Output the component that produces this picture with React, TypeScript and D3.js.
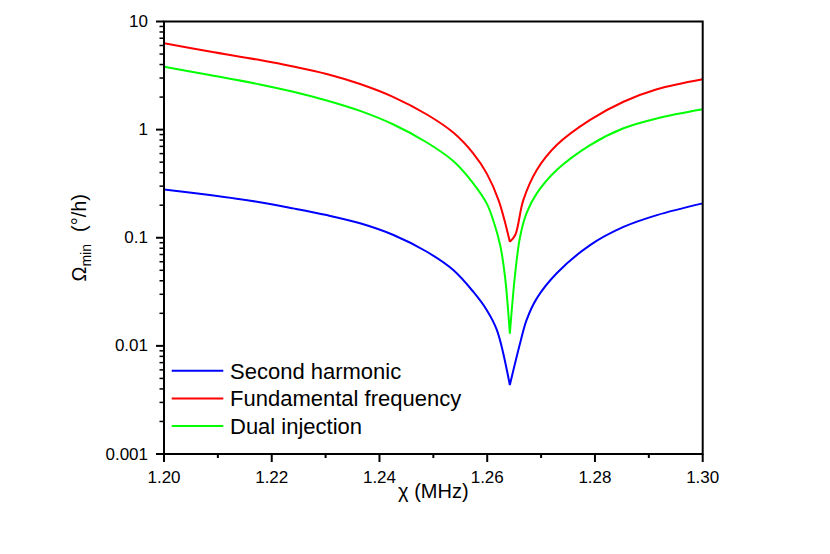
import React from "react";
import * as d3 from "d3";

const redX = [1.2, 1.2085, 1.2178, 1.224, 1.2302, 1.2364, 1.2426, 1.2488, 1.2537, 1.2574, 1.2599, 1.2621, 1.2642, 1.2652, 1.2667, 1.2692, 1.2729, 1.2791, 1.2853, 1.2915, 1.3];
const redY = [6.29, 5.27, 4.4, 3.835, 3.27, 2.64, 2.0, 1.38, 0.94, 0.604, 0.394, 0.223, 0.0918, 0.106, 0.223, 0.423, 0.72, 1.23, 1.81, 2.36, 2.92];

const greenX = [1.2, 1.2085, 1.2178, 1.224, 1.2302, 1.2364, 1.2426, 1.2488, 1.2537, 1.2574, 1.2599, 1.2611, 1.2624, 1.2633, 1.2642, 1.2652, 1.2661, 1.2673, 1.2692, 1.2729, 1.2791, 1.2853, 1.2915, 1.3];
const greenY = [3.82, 3.2, 2.62, 2.24, 1.86, 1.49, 1.115, 0.76, 0.512, 0.319, 0.208, 0.146, 0.0856, 0.0436, 0.013, 0.0472, 0.102, 0.169, 0.257, 0.423, 0.72, 1.03, 1.27, 1.54];

const blueX = [1.2, 1.2085, 1.2178, 1.224, 1.2302, 1.2364, 1.2426, 1.2488, 1.2537, 1.2574, 1.2599, 1.2618, 1.2642, 1.2661, 1.2673, 1.2692, 1.2729, 1.2791, 1.2853, 1.2915, 1.3];
const blueY = [0.28, 0.248, 0.213, 0.187, 0.162, 0.136, 0.106, 0.0742, 0.0503, 0.0317, 0.0215, 0.014, 0.00434, 0.01055, 0.0173, 0.0275, 0.0469, 0.0856, 0.126, 0.162, 0.208];

const seriesNames = ["Second harmonic", "Fundamental frequency", "Dual injection"];
const seriesColors = ["#0000FF", "#FF0000", "#00FF00"];

const xMajor = [1.2, 1.22, 1.24, 1.26, 1.28, 1.3];
const xMinor = [1.21, 1.23, 1.25, 1.27, 1.29];
const yMajor = [0.001, 0.01, 0.1, 1, 10];
const yMajorLabels = ["0.001", "0.01", "0.1", "1", "10"];

const L = 164, R = 702.7, T = 21.5, B = 454;
const FONT = "Liberation Sans, Arial, Helvetica, sans-serif";

export default function App() {
  const x = d3.scaleLinear().domain([1.2, 1.3]).range([L, R]);
  const y = d3.scaleLog().domain([0.001, 10]).range([B, T]);

  const yMinor: number[] = [];
  for (let i = 0; i < 4; i++) {
    const base = yMajor[i];
    for (let k = 2; k <= 9; k++) yMinor.push(base * k);
  }

  const line = d3
    .line<[number, number]>()
    .x((d) => x(d[0]))
    .y((d) => y(d[1]))
    .curve(d3.curveCatmullRom.alpha(0.5));

  const makePath = (xs: number[], ys: number[]) => {
    const pts: [number, number][] = xs.map((v, i) => [v, ys[i]]);
    let mi = 0;
    ys.forEach((v, i) => {
      if (v < ys[mi]) mi = i;
    });
    return (line(pts.slice(0, mi + 1)) || "") + (line(pts.slice(mi)) || "");
  };

  const series = [
    { xs: blueX, ys: blueY },
    { xs: redX, ys: redY },
    { xs: greenX, ys: greenY },
  ];

  return (
    <svg width={830} height={554} style={{ position: "absolute", left: 0, top: 0, background: "#fff" }} fontFamily={FONT}>
      <rect width={830} height={554} fill="#fff" />
      <defs>
        <clipPath id="plot">
          <rect x={L} y={T - 2} width={R - L} height={B - T + 4} />
        </clipPath>
      </defs>
      <g clipPath="url(#plot)">
        {series.map((s, i) => (
          <path key={i} d={makePath(s.xs, s.ys)} fill="none" stroke={seriesColors[i]} strokeWidth={2} strokeLinejoin="round" />
        ))}
      </g>
      {/* frame */}
      <rect x={L} y={T} width={R - L} height={B - T} fill="none" stroke="#000" strokeWidth={2} />
      {/* x ticks */}
      {xMajor.map((v) => (
        <g key={"xm" + v}>
          <line x1={x(v)} x2={x(v)} y1={B} y2={B + 8} stroke="#000" strokeWidth={2} />
          <text x={x(v)} y={483} textAnchor="middle" fontSize={17} fill="#000">
            {v.toFixed(2)}
          </text>
        </g>
      ))}
      {xMinor.map((v) => (
        <line key={"xn" + v} x1={x(v)} x2={x(v)} y1={B} y2={B + 4} stroke="#000" strokeWidth={2} />
      ))}
      {/* y ticks */}
      {yMajor.map((v, i) => (
        <g key={"ym" + v}>
          <line x1={L - 8} x2={L} y1={y(v)} y2={y(v)} stroke="#000" strokeWidth={2} />
          <text x={148} y={y(v) + 5.5} textAnchor="end" fontSize={17} fill="#000">
            {yMajorLabels[i]}
          </text>
        </g>
      ))}
      {yMinor.map((v) => (
        <line key={"yn" + v} x1={L - 4.5} x2={L} y1={y(v)} y2={y(v)} stroke="#000" strokeWidth={1.5} />
      ))}
      {/* axis titles */}
      <text x={(L + R) / 2} y={498} textAnchor="middle" fontSize={20} fill="#000">
        χ (MHz)
      </text>
      <text transform={`translate(86, ${(T + B) / 2}) rotate(-90)`} textAnchor="middle" fontSize={20} fill="#000">
        <tspan>Ω</tspan>
        <tspan fontSize={14} dy={5}>min</tspan>
        <tspan dy={-5} dx={12}>(°/h)</tspan>
      </text>
      {/* legend */}
      {seriesNames.map((n, i) => (
        <g key={n}>
          <line x1={171.7} x2={223.3} y1={370.7 + i * 27.7} y2={370.7 + i * 27.7} stroke={seriesColors[i]} strokeWidth={2} />
          <text x={230} y={378.7 + i * 27.7} fontSize={22} fill="#000">
            {n}
          </text>
        </g>
      ))}
    </svg>
  );
}
